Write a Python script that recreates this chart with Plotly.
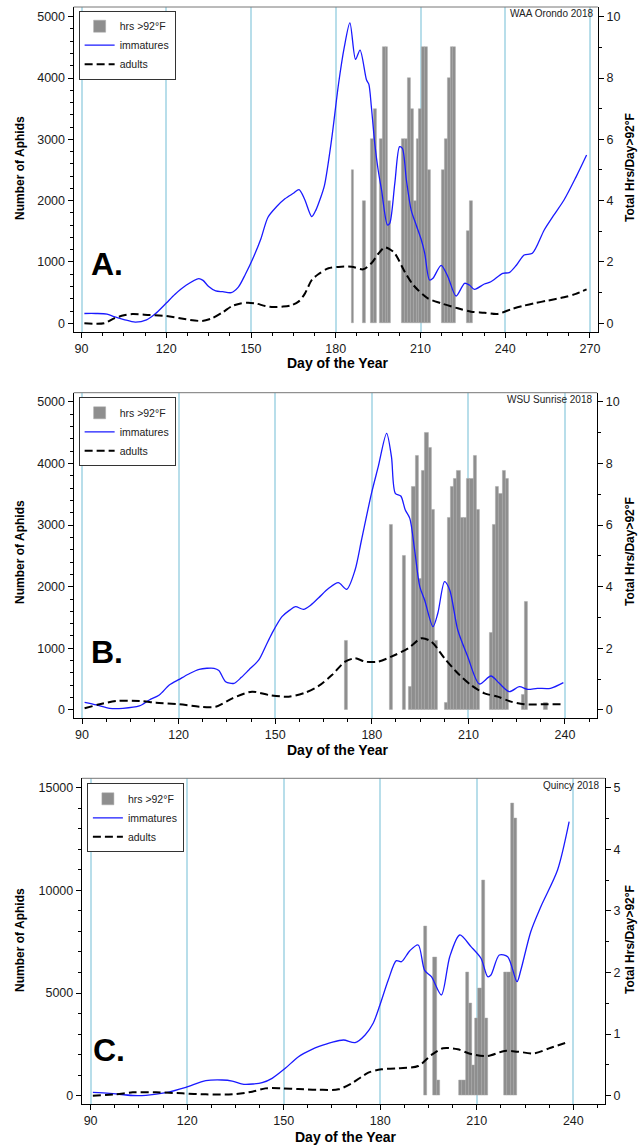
import plotly.graph_objects as go

# ---------------- Panel A: WAA Orondo 2018 ----------------
a_imm_day = [91, 95, 99, 101.5, 105, 109, 113, 116, 120, 123, 127, 131.5, 133, 135, 137.5, 140, 143, 145.5,
             148, 150.5, 153.5, 156, 159, 162, 165, 167, 169, 171.5, 173, 174.5, 176, 178.5, 181, 183, 185,
             187, 188.6, 190.9, 191.7, 192.6, 193.8, 195, 196.2, 198.3, 199.1, 200.9, 202.6, 203.6, 205,
             206.7, 208.5, 210.3, 211.5, 213.2, 214.4, 217.3, 219.7, 222.6, 225.6, 227.3, 229.1, 232.6,
             234.9, 239.1, 241.4, 244, 246.7, 249.6, 253.8, 257, 260.8, 265, 268.8]
a_imm = [160, 160, 150, 108, 60, 18, 55, 150, 330, 470, 620, 730, 700, 600, 527, 515, 500, 590,
         800, 1040, 1380, 1730, 1900, 2030, 2120, 2180, 2020, 1740, 1850, 2030, 2250, 2990, 3910, 4500, 4900,
         4305, 4456, 3967, 3900, 3532, 2935, 2500, 2174, 1603, 1630, 2283, 2880, 2850, 2337,
         1847, 1600, 1358, 1141, 706, 733, 946, 760, 445, 652, 624, 554, 641,
         678, 815, 826, 950, 1114, 1141, 1521, 1750, 2010, 2380, 2744]
a_ad_day = [91, 98, 101.5, 105, 108, 114, 120, 127, 132.7, 136.2, 140, 143.3, 146, 149, 152, 155, 158, 161,
            164, 166.8, 169, 171.5, 173.8, 177.4, 181, 185.6, 189.7, 192.6, 195, 197.3, 199, 200.9, 204.4,
            207, 209.1, 212.6, 217.3, 223.2, 227.9, 232.6, 237.3, 242, 246, 250.2, 255, 260.8, 265, 268.8]
a_ad = [0, 0, 80, 130, 150, 135, 119, 65, 38, 81, 180, 282, 320, 336, 320, 282, 265, 271,
        290, 353, 480, 706, 800, 897, 920, 923, 880, 978, 1130, 1239, 1210, 1141, 842,
        650, 543, 407, 326, 245, 190, 173, 152, 228, 280, 326, 370, 424, 480, 554]
a_hot_day = [186, 190, 193, 194, 196, 197, 198, 199, 204, 205, 206, 207, 208, 209, 210, 211, 212, 213,
             218, 219, 220, 221, 222, 227, 228]
a_hot_hrs = [5, 4, 6, 7, 6, 9, 9, 4, 6, 6, 8, 7, 4, 6, 7, 9, 9, 5,
             5, 6, 8, 9, 9, 3, 4]

# ---------------- Panel B: WSU Sunrise 2018 ----------------
b_imm_day = [90.8, 94.5, 98.6, 102.7, 107.8, 110.9, 114, 117.1, 120.2, 123, 126.4, 131, 132.5, 134.6, 137.2,
             139.5, 141.8, 144.9, 147, 149, 152.1, 154.5, 156.3, 158.8, 161, 163.5, 166.6, 169.6, 172.2,
             174.8, 176.8, 179.9, 182, 184.6, 186.1, 187.3, 189, 190.4, 191.8, 193.3, 194.9, 196.4, 199,
             200.5, 202.6, 204.2, 206.7, 209.8, 213.4, 217, 219.6, 222.7, 225.8, 228.4, 231.4, 235.5, 239.5]
b_imm = [124, 81, 27, 27, 65, 162, 243, 405, 497, 580, 660, 676, 640, 459, 432,
         530, 649, 811, 1030, 1243, 1513, 1620, 1675, 1632, 1700, 1820, 1973, 2065, 1957,
         2270, 2757, 3514, 3946, 4487, 4108, 3514, 3470, 3243, 3108, 2595, 2000, 1784, 1351,
         1568, 2081, 1946, 1297, 865, 422, 551, 432, 297, 378, 335, 351, 351, 443]
b_ad_day = [90.8, 95.5, 100.6, 107.8, 113, 120.2, 126.4, 131.5, 136.7, 142.8, 148, 154.2, 159.3, 163.5,
            167.6, 171.7, 174.8, 177.9, 182, 187.2, 191.3, 195.4, 198.5, 202.6, 206.7, 210.8, 215, 219.1,
            223.2, 227.3, 233.5, 239.5]
b_ad = [27, 92, 146, 146, 119, 92, 54, 54, 189, 297, 243, 216, 281, 390,
        567, 784, 838, 784, 784, 892, 1000, 1162, 1108, 838, 595, 405, 270, 216,
        135, 92, 92, 92]
b_hot_day = [172, 186, 190, 192, 193, 194, 195, 196, 197, 198, 199, 200, 203, 204, 205, 206, 207, 208,
             209, 210, 211, 212, 213, 217, 218, 219, 220, 221, 222, 227, 228, 234]
b_hot_hrs = [2.25, 6, 5, 0.75, 7.25, 8.25, 4.25, 7.75, 9, 8.5, 6.5, 2.25, 0.25, 6.25, 7.25, 7.5, 7.75, 6.25,
             6.25, 7.5, 7.5, 8.25, 6.5, 2.5, 6, 7.25, 7, 7.75, 7.5, 0.5, 3.5, 0.25]

# ---------------- Panel C: Quincy 2018 ----------------
c_imm_day = [90.7, 95.9, 103.1, 107.2, 113.4, 119.6, 125.8, 130.9, 134, 137.6, 140.5, 143.3, 146.4, 150.5,
             154.6, 158.8, 161, 164.9, 168.6, 172.2, 175.3, 177.8, 179.9, 182.5, 185, 186.6, 189.2, 191.8,
             193.8, 195.9, 199, 201.6, 204.7, 208.2, 211.3, 213.4, 214.4, 217, 219.6, 222.5, 223.7, 226.8,
             229.9, 235.1, 238.7]
c_imm = [164, 115, 10, 20, 146, 406, 731, 764, 715, 555, 570, 633, 845, 1334,
         1900, 2258, 2400, 2600, 2713, 2583, 2957, 3526, 4418, 5636, 6575, 6526, 7062, 7339,
         6100, 5796, 4905, 6770, 7827, 7258, 6693, 5796, 5880, 6854, 6770, 5553, 6122, 8000,
         9206, 10990, 13345]
c_ad_day = [90.7, 97.9, 103.1, 110.3, 118.5, 125.8, 134, 140.2, 144.3, 149.5, 154.6, 160.8, 167, 171.1,
            176.3, 180.4, 185.6, 191.8, 195.9, 199.5, 204.1, 208.2, 213.4, 218.6, 222.7, 227.9, 233, 238.7]
c_ad = [0, 65, 164, 164, 115, 65, 65, 195, 357, 357, 325, 290, 309, 601,
        1120, 1283, 1334, 1445, 1982, 2307, 2258, 2030, 1933, 2177, 2144, 2063, 2338, 2630]
c_hot_day = [194, 197, 198, 205, 206, 207, 208, 209, 210, 211, 212, 213, 219, 220, 221, 222]
c_hot_hrs = [2.75, 2.25, 0.25, 0.25, 0.25, 2, 1.5, 0.5, 1.25, 1.75, 3.5, 1.25, 2, 2, 4.75, 4.5]

W, H = 641, 1148
FONT = "Liberation Sans, Arial, Helvetica, sans-serif"


def fx(p):
    return p / W


def fy(p):
    return 1 - p / H


panels = [
    dict(letter="A.", site="WAA Orondo 2018",
         imm=(a_imm_day, a_imm), ad=(a_ad_day, a_ad), hot=(a_hot_day, a_hot_hrs),
         box=(74, 600.7, 7, 332), xr=[87.2, 272.8], yl=[-142, 5158], yr=[-0.284, 10.316],
         ldt=1000, lmin=200, rdt=2, rmin=1,
         letter_xy=(108, 264), legend_xy=(79, 10.7), site_y=13.5,
         ytitle_y=168, xtitle=(339, 363)),
    dict(letter="B.", site="WSU Sunrise 2018",
         imm=(b_imm_day, b_imm), ad=(b_ad_day, b_ad), hot=(b_hot_day, b_hot_hrs),
         box=(74, 600, 392.7, 718.3), xr=[87.4, 250], yl=[-135, 5146], yr=[-0.27, 10.292],
         ldt=1000, lmin=200, rdt=2, rmin=1,
         letter_xy=(108, 652), legend_xy=(79, 397.3), site_y=399,
         ytitle_y=552, xtitle=(339, 750)),
    dict(letter="C.", site="Quincy 2018",
         imm=(c_imm_day, c_imm), ad=(c_ad_day, c_ad), hot=(c_hot_day, c_hot_hrs),
         box=(82.3, 607.7, 778.3, 1104.3), xr=[87.3, 249.8], yl=[-419, 15458], yr=[-0.1397, 5.1527],
         ldt=5000, lmin=1000, rdt=1, rmin=0.5,
         letter_xy=(110, 1050), legend_xy=(87.3, 783.3), site_y=785,
         ytitle_y=940, xtitle=(347, 1137)),
]

fig = go.Figure()
layout = {}
annotations = []
shapes = []

for i, p in enumerate(panels):
    xid = "x" if i == 0 else f"x{i + 1}"
    ybar = "y" if i == 0 else f"y{2 * i + 1}"
    yline = f"y{2 * i + 2}"
    legname = "legend" if i == 0 else f"legend{i + 1}"
    x0, x1, ytop, ybot = p["box"]

    fig.add_trace(go.Bar(x=p["hot"][0], y=p["hot"][1], width=1, name="hrs >92°F",
                         marker=dict(color="#8e8e8e", line=dict(color="#a9a9a9", width=0.5)),
                         xaxis=xid, yaxis=ybar, legend=legname))
    fig.add_trace(go.Scatter(x=p["imm"][0], y=p["imm"][1], mode="lines", name="immatures",
                             line=dict(color="#1a1aff", width=1.3, shape="spline", smoothing=0.8),
                             xaxis=xid, yaxis=yline, legend=legname))
    fig.add_trace(go.Scatter(x=p["ad"][0], y=p["ad"][1], mode="lines", name="adults",
                             line=dict(color="black", width=2, dash="8px,4px", shape="spline", smoothing=0.8),
                             xaxis=xid, yaxis=yline, legend=legname))

    tickfont = dict(family=FONT, size=12.5, color="#1a1a1a")
    xkey = "xaxis" if i == 0 else f"xaxis{i + 1}"
    layout[xkey] = dict(
        domain=[fx(x0), fx(x1)], anchor=ybar, range=p["xr"],
        tickmode="linear", tick0=90, dtick=30, ticks="outside", ticklen=5, tickwidth=1,
        tickcolor="black", tickfont=tickfont,
        showline=True, linecolor="black", linewidth=1.3, mirror=False,
        showgrid=True, gridcolor="#b8deea", gridwidth=1.5, zeroline=False,
        minor=dict(tick0=90, dtick=7.5, ticks="outside", ticklen=3, tickcolor="black", showgrid=False),
    )
    ybkey = "yaxis" if i == 0 else f"yaxis{2 * i + 1}"
    layout[ybkey] = dict(
        domain=[fy(ybot), fy(ytop)], anchor=xid, side="right", range=p["yr"],
        tickmode="linear", tick0=0, dtick=p["rdt"], ticks="outside", ticklen=5, tickwidth=1,
        tickcolor="black", tickfont=tickfont,
        showline=True, linecolor="black", linewidth=1.3, showgrid=False, zeroline=False,
        minor=dict(tick0=0, dtick=p["rmin"], ticks="outside", ticklen=3, tickcolor="black", showgrid=False),
    )
    ylkey = f"yaxis{2 * i + 2}"
    layout[ylkey] = dict(
        overlaying=ybar, anchor=xid, side="left", range=p["yl"],
        tickmode="linear", tick0=0, dtick=p["ldt"], ticks="outside", ticklen=5, tickwidth=1,
        tickcolor="black", tickfont=tickfont, tickformat="d",
        showline=True, linecolor="black", linewidth=1.3, showgrid=False, zeroline=False,
        minor=dict(tick0=0, dtick=p["lmin"], ticks="outside", ticklen=3, tickcolor="black", showgrid=False),
    )
    lx, ly = p["legend_xy"]
    layout[legname] = dict(
        x=fx(lx), y=fy(ly), xanchor="left", yanchor="top", xref="paper", yref="paper",
        bgcolor="white", bordercolor="#333333", borderwidth=1,
        font=dict(family=FONT, size=10.5, color="#222"),
        traceorder="normal", itemwidth=30, tracegroupgap=0,
    )
    # top frame line
    shapes.append(dict(type="line", xref="paper", yref="paper",
                       x0=fx(x0), x1=fx(x1), y0=fy(ytop), y1=fy(ytop),
                       line=dict(color="#777777", width=1)))
    # panel letter
    annotations.append(dict(text=f"<b>{p['letter']}</b>", x=fx(p["letter_xy"][0]), y=fy(p["letter_xy"][1]),
                            xref="paper", yref="paper", showarrow=False, xanchor="center", yanchor="middle",
                            font=dict(family=FONT, size=32, color="black")))
    # site label
    annotations.append(dict(text=p["site"], x=fx(x1 - 3), y=fy(p["site_y"]), xref="paper", yref="paper",
                            showarrow=False, xanchor="right", yanchor="middle",
                            font=dict(family=FONT, size=10, color="#222")))
    # axis titles
    annotations.append(dict(text="<b>Number of Aphids</b>", x=fx(20), y=fy(p["ytitle_y"]),
                            xref="paper", yref="paper", showarrow=False, textangle=-90,
                            xanchor="center", yanchor="middle",
                            font=dict(family=FONT, size=12, color="black")))
    annotations.append(dict(text="<b>Total Hrs/Day>92°F</b>", x=fx(633), y=fy(p["ytitle_y"]),
                            xref="paper", yref="paper", showarrow=False, textangle=-90,
                            xanchor="center", yanchor="middle",
                            font=dict(family=FONT, size=12, color="black")))
    annotations.append(dict(text="<b>Day of the Year</b>", x=fx(p["xtitle"][0]), y=fy(p["xtitle"][1]),
                            xref="paper", yref="paper", showarrow=False,
                            xanchor="center", yanchor="middle",
                            font=dict(family=FONT, size=14, color="black")))

fig.update_layout(
    width=W, height=H, margin=dict(l=0, r=0, t=0, b=0),
    paper_bgcolor="white", plot_bgcolor="white",
    bargap=0, showlegend=True,
    annotations=annotations, shapes=shapes,
    font=dict(family=FONT, size=12, color="black"),
    **layout,
)

fig.write_html("out.html", config={"displayModeBar": False},
               post_script="document.body.style.margin='0px';")
